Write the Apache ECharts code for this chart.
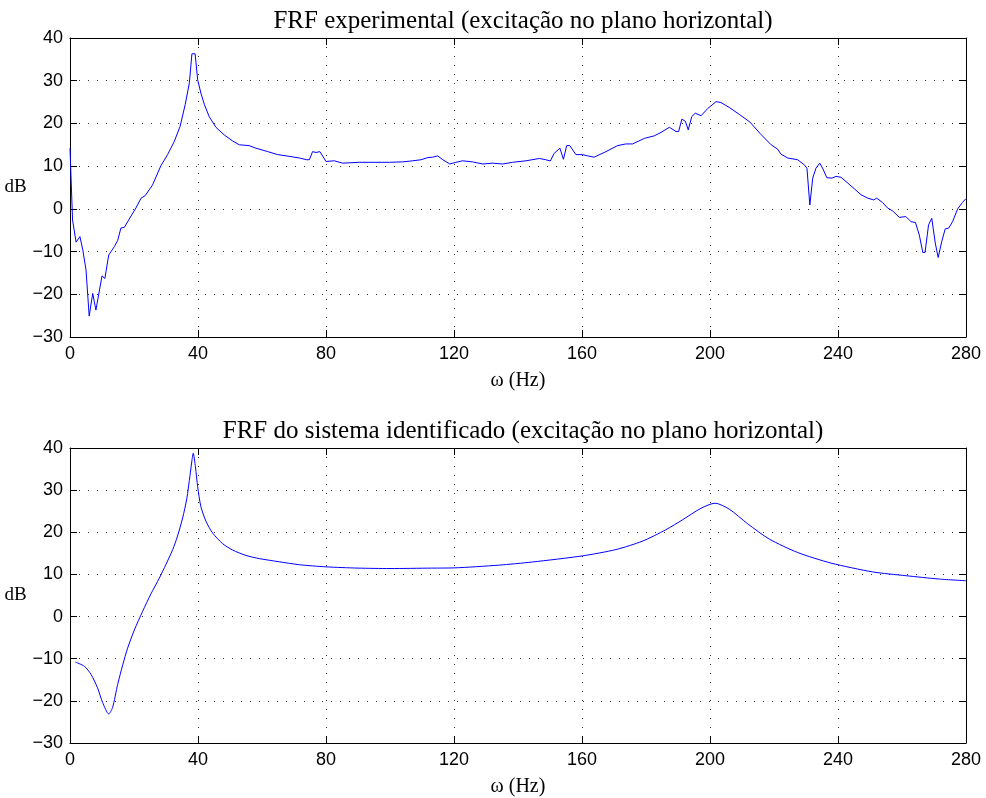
<!DOCTYPE html>
<html>
<head>
<meta charset="utf-8">
<script src="https://cdn.jsdelivr.net/npm/echarts@6/dist/echarts.min.js"></script>
<style>
html,body{margin:0;padding:0;background:#fff;}
#chart{width:986px;height:798px;}
</style>
</head>
<body>
<div id="chart"></div>
<script>
// Tick labels
const xTicks = [0, 40, 80, 120, 160, 200, 240, 280];
const yTicks = [-30, -20, -10, 0, 10, 20, 30, 40];

// Titles
const titleTop = 'FRF experimental (excitação no plano horizontal)';
const titleBottom = 'FRF do sistema identificado (excitação no plano horizontal)';
const xName = 'ω (Hz)';
const yName = 'dB';

// Experimental FRF (top): frequency (Hz), magnitude (dB)
const expFreq = [0, 0.8, 1.9, 3.1, 4.0, 5.0, 6.0, 7.1, 8.1, 10.0, 10.9, 12.1, 13.9, 14.9, 15.9, 17.0, 18.5, 20.6, 22.2, 23.5, 25.8, 28.4, 30.5, 32.6, 34.4, 36.0, 37.3, 38.1, 39.1, 39.9, 40.9, 42.0, 43.5, 45.6, 48.2, 50.8, 52.9, 56.0, 58.1, 61.8, 64.9, 68.5, 71.7, 74.0, 74.8, 75.8, 76.9, 78.1, 80.0, 82.6, 85.2, 90.4, 95.6, 99.8, 104.0, 107.1, 109.7, 111.8, 113.3, 114.9, 116.5, 118.7, 120.6, 122.7, 125.8, 129.0, 132.1, 135.2, 138.3, 142.5, 146.7, 148.7, 150.1, 151.3, 153.1, 154.2, 155.2, 156.2, 158.1, 160.2, 161.8, 163.8, 167.5, 171.1, 173.7, 175.8, 179.5, 182.6, 184.7, 187.3, 189.4, 190.2, 191.2, 192.3, 193.2, 194.3, 195.4, 197.2, 199.3, 201.9, 203.4, 206.0, 209.2, 212.5, 215.7, 219.1, 221.1, 222.2, 224.3, 227.4, 229.5, 230.3, 231.2, 232.1, 233.1, 234.3, 235.2, 236.5, 238.1, 239.4, 240.9, 242.5, 245.1, 247.2, 249.3, 251.1, 252.1, 253.9, 255.5, 257.1, 259.2, 261.2, 262.8, 264.2, 265.4, 266.5, 267.2, 268.3, 269.3, 270.4, 271.3, 272.4, 273.5, 274.6, 275.8, 277.4, 278.9, 280.0];
const expDb = [14.2, -2.6, -7.8, -6.5, -9.6, -14.3, -25.1, -19.8, -23.7, -15.7, -16.3, -10.8, -8.8, -7.4, -4.5, -4.3, -2.4, 0.2, 2.5, 3.1, 5.6, 10.1, 12.7, 15.8, 19.3, 24.4, 29.5, 36.3, 36.3, 30.2, 27.1, 24.4, 21.6, 19.1, 17.3, 15.9, 15.0, 14.8, 14.2, 13.4, 12.7, 12.3, 11.9, 11.5, 11.5, 13.4, 13.2, 13.4, 11.1, 11.25, 10.7, 10.9, 10.9, 10.9, 11.0, 11.25, 11.5, 12.0, 12.1, 12.4, 11.5, 10.5, 10.9, 11.25, 11.0, 10.5, 10.7, 10.5, 10.9, 11.25, 11.8, 11.5, 11.2, 13.0, 14.2, 11.6, 14.8, 14.8, 12.7, 12.7, 12.4, 12.1, 13.4, 14.8, 15.2, 15.2, 16.5, 17.1, 17.9, 19.1, 18.1, 18.1, 21.0, 20.5, 18.5, 21.6, 22.4, 21.8, 23.5, 25.1, 24.9, 23.75, 22.1, 20.3, 17.6, 15.0, 14.0, 12.8, 11.9, 11.5, 10.3, 9.5, 0.9, 7.2, 9.5, 10.7, 9.5, 7.3, 7.2, 7.6, 7.4, 6.4, 4.7, 3.3, 2.5, 2.1, 2.5, 1.5, 0.2, -0.5, -2.0, -1.8, -3.0, -3.2, -6.1, -10.2, -10.2, -3.75, -2.2, -8.0, -11.4, -7.7, -4.7, -4.5, -3.0, 0.0, 1.5, 2.4];

// Identified system FRF (bottom): frequency (Hz), magnitude (dB)
const idFreq = [1.7, 4.5, 6.6, 8.6, 10.2, 12.1, 13.3, 14.9, 16.5, 18.0, 20.1, 22.7, 25.3, 27.9, 30.0, 32.1, 33.6, 35.2, 36.5, 37.5, 38.1, 38.5, 39.2, 39.9, 40.9, 42.5, 44.6, 47.7, 50.8, 55.0, 59.2, 65.4, 71.7, 80.0, 90.0, 100.0, 113.0, 120.0, 134.0, 144.5, 160.1, 170.6, 178.9, 186.2, 191.5, 197.2, 201.6, 206.0, 211.8, 218.5, 227.4, 237.8, 250.8, 261.2, 271.7, 280.0];
const idDb = [-10.8, -11.8, -13.75, -16.9, -20.4, -23.1, -21.6, -16.1, -11.4, -7.5, -3.2, 1.25, 5.4, 9.1, 12.4, 15.9, 19.1, 23.4, 28.0, 33.5, 37.0, 38.75, 35.5, 30.8, 26.1, 22.6, 19.8, 17.3, 15.8, 14.5, 13.75, 13.0, 12.3, 11.8, 11.5, 11.4, 11.5, 11.55, 12.2, 12.95, 14.4, 15.9, 17.9, 20.6, 23.0, 25.7, 26.9, 25.5, 22.0, 18.4, 15.2, 12.7, 10.6, 9.7, 8.9, 8.5];

const chart = echarts.init(document.getElementById('chart'), null, {renderer: 'canvas'});

const tickFont = {fontFamily: 'Liberation Sans', fontSize: 18, color: '#000'};
const serif = 'Liberation Serif';
const gridLine = {show: true, lineStyle: {color: '#000', width: 1, type: [1, 8], opacity: 0.8}};

function xAxes(gi) {
  return [
    {
      type: 'value', gridIndex: gi, min: 0, max: 280, interval: 40, position: 'bottom',
      name: xName, nameLocation: 'middle', nameGap: 34,
      nameTextStyle: {fontFamily: serif, fontSize: 20, color: '#000'},
      axisLine: {show: true, onZero: false, lineStyle: {color: '#000', width: 1}},
      axisTick: {show: true, inside: true, length: 7, lineStyle: {color: '#000'}},
      axisLabel: Object.assign({margin: 8, formatter: v => xTicks.includes(v) ? String(v) : ''}, tickFont),
      splitLine: gridLine
    },
    {
      type: 'value', gridIndex: gi, min: 0, max: 280, interval: 40, position: 'top',
      axisLine: {show: true, onZero: false, lineStyle: {color: '#000', width: 1}},
      axisTick: {show: true, inside: true, length: 7, lineStyle: {color: '#000'}},
      axisLabel: {show: false}, splitLine: {show: false}
    }
  ];
}
function yAxes(gi) {
  return [
    {
      type: 'value', gridIndex: gi, min: -30, max: 40, interval: 10, position: 'left',
      name: yName, nameLocation: 'middle', nameRotate: 0, nameGap: 37,
      nameTextStyle: {fontFamily: serif, fontSize: 19, color: '#000', padding: [0, 0, 14, 0]},
      axisLine: {show: true, onZero: false, lineStyle: {color: '#000', width: 1}},
      axisTick: {show: true, inside: true, length: 7, lineStyle: {color: '#000'}},
      axisLabel: Object.assign({margin: 7, formatter: v => yTicks.includes(v) ? (v < 0 ? '\u2212' + (-v) : String(v)) : ''}, tickFont),
      splitLine: gridLine
    },
    {
      type: 'value', gridIndex: gi, min: -30, max: 40, interval: 10, position: 'right',
      axisLine: {show: true, onZero: false, lineStyle: {color: '#000', width: 1}},
      axisTick: {show: true, inside: true, length: 7, lineStyle: {color: '#000'}},
      axisLabel: {show: false}, splitLine: {show: false}
    }
  ];
}

const option = {
  backgroundColor: '#fff',
  animation: false,
  title: [
    {text: titleTop, left: 518, top: 4, textAlign: 'center',
     textStyle: {fontFamily: serif, fontSize: 25, fontWeight: 'normal', color: '#000'}},
    {text: titleBottom, left: 518, top: 414, textAlign: 'center',
     textStyle: {fontFamily: serif, fontSize: 25, fontWeight: 'normal', color: '#000'}}
  ],
  grid: [
    {left: 70, width: 896, top: 38, height: 299},
    {left: 70, width: 896, top: 448, height: 298}
  ],
  xAxis: [...xAxes(0), ...xAxes(1)],
  yAxis: [...yAxes(0), ...yAxes(1)],
  series: [
    {type: 'line', xAxisIndex: 0, yAxisIndex: 0, showSymbol: false, symbol: 'none',
     lineStyle: {color: '#0000ff', width: 1}, data: expFreq.map((f, i) => [f, expDb[i]])},
    {type: 'line', xAxisIndex: 2, yAxisIndex: 2, showSymbol: false, symbol: 'none', smooth: 0.25,
     lineStyle: {color: '#0000ff', width: 1}, data: idFreq.map((f, i) => [f, idDb[i]])}
  ]
};
chart.setOption(option);
</script>
</body>
</html>
